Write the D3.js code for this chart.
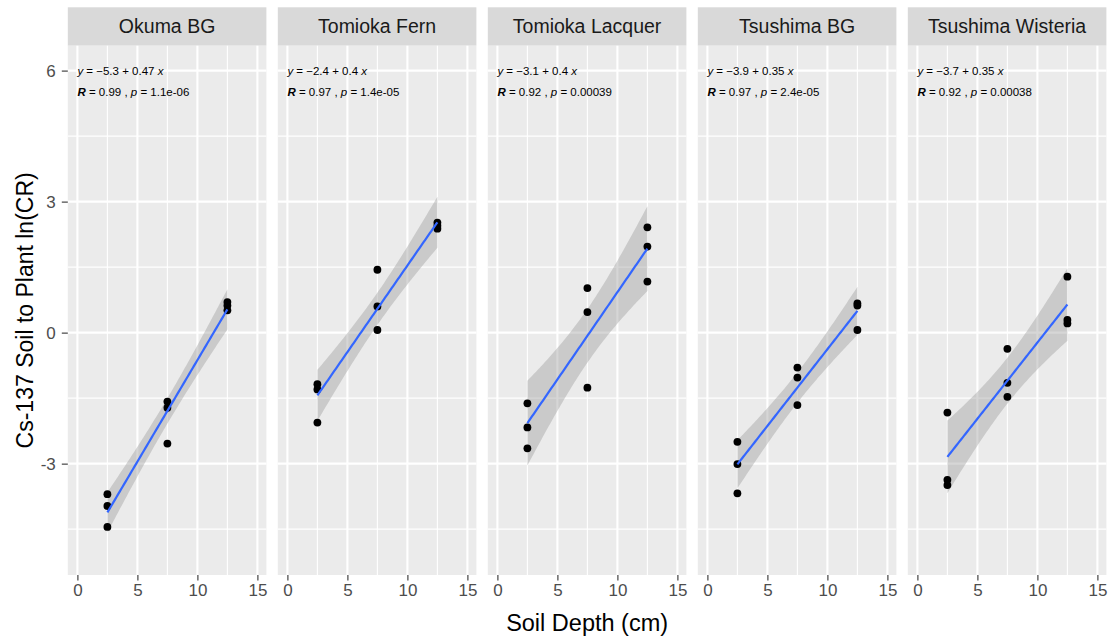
<!DOCTYPE html>
<html>
<head>
<meta charset="utf-8">
<script src="https://cdn.jsdelivr.net/npm/d3@7"></script>
<style>
	body { margin: 0; background: #fff; }
	svg { display: block; font-family: "Liberation Sans", Arial, sans-serif; }
</style>
</head>
<body>
<svg width="1114" height="639"></svg>
<script>
// sites (facets)
var sites = ["Okuma BG", "Tomioka Fern", "Tomioka Lacquer", "Tsushima BG", "Tsushima Wisteria"];

// soil depth of every sample (same for every site)
var depth = [2.5, 2.5, 2.5, 7.5, 7.5, 7.5, 12.5, 12.5, 12.5];

// ln(CR) per site, in the order of depth[]
var okumaBG = [-3.70, -3.97, -4.45, -1.58, -1.72, -2.54, 0.70, 0.62, 0.51];
var tomiokaFern = [-1.18, -1.30, -2.06, 1.44, 0.60, 0.06, 2.52, 2.45, 2.38];
var tomiokaLacquer = [-1.62, -2.17, -2.65, 1.02, 0.47, -1.26, 2.41, 1.97, 1.17];
var tsushimaBG = [-2.50, -3.01, -3.68, -0.80, -1.03, -1.66, 0.67, 0.62, 0.06];
var tsushimaWisteria = [-1.83, -3.37, -3.49, -0.37, -1.15, -1.47, 1.28, 0.29, 0.21];
var values = [okumaBG, tomiokaFern, tomiokaLacquer, tsushimaBG, tsushimaWisteria];

// printed regression labels
var eqIntercept = ["\u22125.3", "\u22122.4", "\u22123.1", "\u22123.9", "\u22123.7"];
var eqSlope = ["0.47", "0.4", "0.4", "0.35", "0.35"];
var corR = ["0.99", "0.97", "0.92", "0.97", "0.92"];
var corP = ["1.1e-06", "1.4e-05", "0.00039", "2.4e-05", "0.00038"];

// axis breaks
var xTicks = [0, 5, 10, 15];
var xMinor = [2.5, 7.5, 12.5];
var yTicks = [-3, 0, 3, 6];
var yMinor = [-4.5, -1.5, 1.5, 4.5];

var svg = d3.select("svg");

var panelLeft = 67.8,
	panelStep = 210.0,
	panelW = 198.6,
	panelTop = 45.7,
	panelBottom = 575,
	stripTop = 7.3;

var x = d3.scaleLinear().domain([-0.8, 15.75]).range([0, panelW]);
var y = d3.scaleLinear().domain([-5.55, 6.57]).range([panelBottom, panelTop]);

// t quantile 0.975 with 7 degrees of freedom
var tq = 2.364624;

var fitLine = function(xs, ys) {
	var n = xs.length,
		mx = d3.mean(xs),
		my = d3.mean(ys),
		sxx = d3.sum(xs, function(v) { return (v - mx) * (v - mx); }),
		sxy = d3.sum(xs, function(v, i) { return (v - mx) * (ys[i] - my); }),
		b = sxy / sxx,
		a = my - b * mx,
		sse = d3.sum(xs, function(v, i) { var r = ys[i] - a - b * v; return r * r; }),
		s = Math.sqrt(sse / (n - 2));
	var lo = d3.min(xs), hi = d3.max(xs);
	var pts = d3.range(80).map(function(k) {
		var xv = lo + (hi - lo) * k / 79,
			fit = a + b * xv,
			se = s * Math.sqrt(1 / n + (xv - mx) * (xv - mx) / sxx);
		return { x: xv, y: fit, lo: fit - tq * se, hi: fit + tq * se };
	});
	return pts;
};

// plain hyphen minus like the R output
var plain = function(d) { return String(d); };

sites.forEach(function(site, p) {
	var g = svg.append("g")
		.attr("transform", "translate(" + (panelLeft + p * panelStep) + ",0)");

	// strip
	g.append("rect")
		.attr("x", 0).attr("y", stripTop)
		.attr("width", panelW).attr("height", panelTop - stripTop)
		.attr("fill", "#d9d9d9");
	g.append("text")
		.attr("x", panelW / 2).attr("y", (stripTop + panelTop) / 2)
		.attr("dy", "0.35em")
		.attr("text-anchor", "middle")
		.attr("font-size", 19.5)
		.attr("fill", "#1a1a1a")
		.text(site);

	// panel background + grid
	g.append("rect")
		.attr("x", 0).attr("y", panelTop)
		.attr("width", panelW).attr("height", panelBottom - panelTop)
		.attr("fill", "#ebebeb");

	g.selectAll(".xminor").data(xMinor).enter().append("line")
		.attr("x1", x).attr("x2", x)
		.attr("y1", panelTop).attr("y2", panelBottom)
		.attr("stroke", "#fff").attr("stroke-width", 1.1);
	g.selectAll(".yminor").data(yMinor).enter().append("line")
		.attr("y1", y).attr("y2", y)
		.attr("x1", 0).attr("x2", panelW)
		.attr("stroke", "#fff").attr("stroke-width", 1.1);
	g.selectAll(".xmajor").data(xTicks).enter().append("line")
		.attr("x1", x).attr("x2", x)
		.attr("y1", panelTop).attr("y2", panelBottom)
		.attr("stroke", "#fff").attr("stroke-width", 2.1);
	g.selectAll(".ymajor").data(yTicks).enter().append("line")
		.attr("y1", y).attr("y2", y)
		.attr("x1", 0).attr("x2", panelW)
		.attr("stroke", "#fff").attr("stroke-width", 2.1);

	// smooth: ribbon + line
	var fit = fitLine(depth, values[p]);
	g.append("path")
		.datum(fit)
		.attr("fill", "#999999")
		.attr("fill-opacity", 0.4)
		.attr("d", d3.area()
			.x(function(d) { return x(d.x); })
			.y0(function(d) { return y(d.lo); })
			.y1(function(d) { return y(d.hi); }));

	// points
	g.selectAll("circle")
		.data(depth.map(function(d, i) { return [d, values[p][i]]; }))
		.enter().append("circle")
		.attr("cx", function(d) { return x(d[0]); })
		.attr("cy", function(d) { return y(d[1]); })
		.attr("r", 3.9)
		.attr("fill", "#000");

	g.append("path")
		.datum(fit)
		.attr("fill", "none")
		.attr("stroke", "#3366ff")
		.attr("stroke-width", 2.2)
		.attr("d", d3.line()
			.x(function(d) { return x(d.x); })
			.y(function(d) { return y(d.y); }));

	// regression labels
	var eq = g.append("text")
		.attr("x", x(0)).attr("y", y(6))
		.attr("dy", "0.35em")
		.attr("font-size", 11.5)
		.attr("fill", "#000");
	eq.append("tspan").attr("font-style", "italic").text("y");
	eq.append("tspan").text(" = " + eqIntercept[p] + " + " + eqSlope[p] + " ");
	eq.append("tspan").attr("font-style", "italic").text("x");

	var cr = g.append("text")
		.attr("x", x(0)).attr("y", y(5.5))
		.attr("dy", "0.35em")
		.attr("font-size", 11.5)
		.attr("fill", "#000");
	cr.append("tspan").attr("font-style", "italic").attr("font-weight", "bold").text("R");
	cr.append("tspan").text(" = " + corR[p] + " , ");
	cr.append("tspan").attr("font-style", "italic").text("p");
	cr.append("tspan").text(" = " + corP[p]);

	// x axis
	var xa = g.append("g")
		.attr("transform", "translate(0," + panelBottom + ")")
		.call(d3.axisBottom(x).tickValues(xTicks).tickFormat(plain).tickSize(5.5).tickPadding(3));
	xa.select(".domain").remove();
	xa.selectAll("line").attr("stroke", "#333").attr("stroke-width", 1.1);
	xa.selectAll("text").attr("fill", "#4d4d4d").attr("font-size", 17)
		.attr("font-family", "Liberation Sans, Arial, sans-serif");

	// y axis on first panel only
	if (p === 0) {
		var ya = g.append("g")
			.call(d3.axisLeft(y).tickValues(yTicks).tickFormat(plain).tickSize(6).tickPadding(6));
		ya.select(".domain").remove();
		ya.selectAll("line").attr("stroke", "#333").attr("stroke-width", 1.1);
		ya.selectAll("text").attr("fill", "#4d4d4d").attr("font-size", 17)
			.attr("font-family", "Liberation Sans, Arial, sans-serif");
	}
});

// axis titles
svg.append("text")
	.attr("x", (panelLeft + 4 * panelStep + panelW + panelLeft) / 2)
	.attr("y", 631)
	.attr("text-anchor", "middle")
	.attr("font-size", 23.5)
	.attr("fill", "#000")
	.text("Soil Depth (cm)");

svg.append("text")
	.attr("transform", "translate(33," + (panelTop + panelBottom) / 2 + ") rotate(-90)")
	.attr("text-anchor", "middle")
	.attr("font-size", 23)
	.attr("fill", "#000")
	.text("Cs-137 Soil to Plant ln(CR)");
</script>
</body>
</html>
